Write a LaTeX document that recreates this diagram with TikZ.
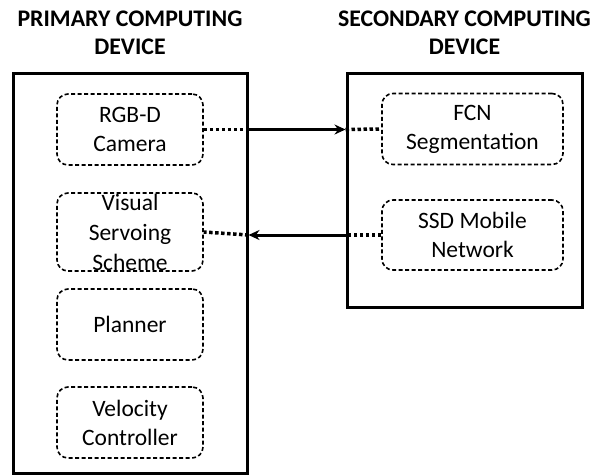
\documentclass[tikz,border=0pt]{standalone}
\usepackage{fontspec}
\setmainfont{Carlito}
\usetikzlibrary{arrows.meta, positioning, calc}

\tikzset{
    devbox/.style={draw, line width=3pt, minimum width=#1},
    modbox/.style={draw, line width=1.6pt, dash pattern=on 4pt off 2.5pt, rounded corners=11pt,
        minimum width=#1, minimum height=71pt, align=center, inner sep=0pt,
        font=\fontsize{23.5}{29}\selectfont},
    devtitle/.style={align=center, inner sep=0pt, font=\fontsize{23.8}{28}\selectfont\bfseries},
    link/.style={line width=3.5pt, dash pattern=on 3.5pt off 2.5pt},
    flow/.style={line width=3pt, ->, >={Stealth[length=11pt,width=10pt]}}
}

\begin{document}
\begin{tikzpicture}[x=1pt, y=-1pt]
    \useasboundingbox (0,0) rectangle (592,475);

    % Appareils
    \node[devbox=234pt, minimum height=400pt] (prim) at (130,273) {};
    \node[devbox=235pt, minimum height=234pt] (sec) at (464.5,190) {};
    \node[devtitle, above=17pt of prim] (primtitle) {PRIMARY COMPUTING\\DEVICE};
    \node[devtitle, above=17pt of sec] (sectitle) {SECONDARY COMPUTING\\DEVICE};

    % Modules primaires
    \node[modbox=146pt] (cam) at (130,129.5) {RGB-D\\Camera};
    \node[modbox=146pt, minimum height=78pt] (vs) at (130,232) {};
    \node[align=center, inner sep=0pt, font=\fontsize{23.5}{30}\selectfont] (vstext) at (vs.center) {Visual\\Servoing\\Scheme};
    \node[modbox=146pt] (plan) at (130,324.5) {Planner};
    \node[modbox=146pt] (vel) at (130,422.5) {Velocity\\Controller};

    % Modules secondaires
    \node[modbox=181pt] (fcn) at (472.5,129) {FCN\\Segmentation};
    \node[modbox=181pt, minimum height=70pt] (ssd) at (472.5,235) {SSD Mobile\\Network};

    % Liens
    \draw[link] (cam.east) -- (cam.east -| prim.east);
    \draw[flow] (cam.east -| prim.east) -- (cam.east -| sec.west);
    \draw[link] (cam.east -| sec.west) -- (fcn.west);

    \draw[link] (ssd.west) -- (ssd.west -| sec.west);
    \draw[flow] (ssd.west -| sec.west) -- (ssd.west -| prim.east);
    \draw[link] (ssd.west -| prim.east) -- (vs.east);
\end{tikzpicture}
\end{document}
